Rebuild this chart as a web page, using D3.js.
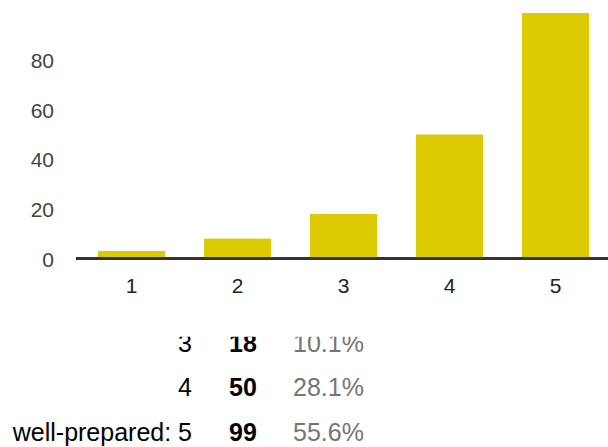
<!DOCTYPE html>
<html>
<head>
<meta charset="UTF-8">
<title>Rating distribution</title>
<script src="https://d3js.org/d3.v7.min.js"></script>
<style>
  body { margin: 0; background: #fff; }
  svg { display: block; font-family: "Liberation Sans", Arial, sans-serif; }
  .ylab { font-size: 21px; fill: #444; }
  .xlab { font-size: 21px; fill: #222; }
  .row { font-size: 25px; }
</style>
</head>
<body>
<div id="chart"></div>
<script>
// data
const ratings = ["1", "2", "3", "4", "5"];
const counts = [3, 8, 18, 50, 99];
const yTicks = [0, 20, 40, 60, 80];
const rowLabels = ["", "", "", "", "well-prepared:"];

const W = 608, H = 447;
const total = d3.sum(counts);

const svg = d3.select("#chart").append("svg")
  .attr("width", W).attr("height", H);

const x = d3.scaleBand()
  .domain(ratings)
  .range([78.5, 608.5])
  .paddingInner(0.368)
  .paddingOuter(0.184);

const y = d3.scaleLinear()
  .domain([0, 100])
  .range([258.5, 10.5]);

// bars
svg.selectAll("rect.bar")
  .data(counts)
  .enter().append("rect")
  .attr("class", "bar")
  .attr("x", (d, i) => x(ratings[i]))
  .attr("width", x.bandwidth())
  .attr("y", d => y(d))
  .attr("height", d => y(0) - y(d))
  .attr("fill", "#dccb00");

// baseline
svg.append("line")
  .attr("x1", 76).attr("x2", W)
  .attr("y1", y(0)).attr("y2", y(0))
  .attr("stroke", "#333").attr("stroke-width", 3);

// y labels
svg.selectAll("text.ylab")
  .data(yTicks)
  .enter().append("text")
  .attr("class", "ylab")
  .attr("x", 54)
  .attr("y", d => y(d) + 8)
  .attr("text-anchor", "end")
  .text(d => d);

// x labels
svg.selectAll("text.xlab")
  .data(ratings)
  .enter().append("text")
  .attr("class", "xlab")
  .attr("x", d => x(d) + x.bandwidth() / 2)
  .attr("y", 293)
  .attr("text-anchor", "middle")
  .text(d => d);

// summary table, scrolled so only the bottom rows show
const clipTop = 336.8;
svg.append("clipPath").attr("id", "tclip")
  .append("rect").attr("x", 0).attr("y", clipTop).attr("width", W).attr("height", H - clipTop);

const rowY = d3.scaleLinear().domain([2, 4]).range([351.7, 441]);
const table = svg.append("g").attr("clip-path", "url(#tclip)");

// rows scrolled fully out of view are not drawn
const visible = ratings.map((r, i) => i).filter(i => rowY(i) > clipTop);

const rows = table.selectAll("g.row")
  .data(visible)
  .enter().append("g")
  .attr("class", "row")
  .attr("transform", i => `translate(0,${rowY(i)})`);

rows.append("text")
  .attr("x", 192)
  .attr("text-anchor", "end")
  .attr("fill", "#000")
  .text(i => (rowLabels[i] ? rowLabels[i] + " " : "") + ratings[i]);

rows.append("text")
  .attr("x", 229)
  .attr("font-weight", "bold")
  .attr("fill", "#000")
  .text(i => counts[i]);

rows.append("text")
  .attr("x", 293)
  .attr("fill", "#757575")
  .text(i => (counts[i] / total * 100).toFixed(1) + "%");
</script>
</body>
</html>
